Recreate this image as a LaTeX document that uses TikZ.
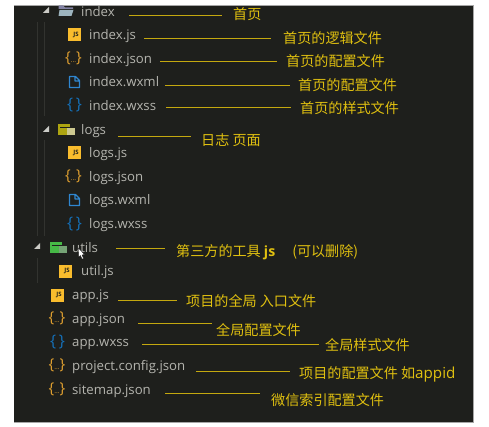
\documentclass[tikz,border=0pt]{standalone}
\usepackage{fontspec}
\setmainfont{Open Sans}
\newfontfamily\cjk{Noto Sans CJK SC}
\definecolor{panelbg}{HTML}{1E1F1C}
\definecolor{filetext}{HTML}{B4B4AE}
\definecolor{note}{HTML}{E0C010}
\definecolor{leader}{HTML}{C4A80F}
\definecolor{jsyellow}{HTML}{F9BC2D}
\definecolor{jsonyellow}{HTML}{E0A030}
\definecolor{iconblue}{HTML}{2F86CF}
\definecolor{cssblue}{HTML}{1570B8}
\definecolor{guide}{HTML}{32332F}
\tikzset{
	filename/.style={anchor=base west, inner sep=0pt, text=filetext, font=\fontsize{13.2}{14}\selectfont},
	notetext/.style={anchor=base west, inner sep=0pt, text=note, font=\cjk\fontsize{14.1}{16}\selectfont},
	leaderline/.style={leader, line width=0.9pt},
	jsicon/.style={fill=jsyellow, minimum size=13pt, inner sep=0pt, text=panelbg, font=\bfseries\fontsize{6}{6}\selectfont},
	jsonicon/.style={inner sep=0pt, text=jsonyellow, font=\fontsize{15}{15}\selectfont},
	wxssicon/.style={inner sep=0pt, text=cssblue, font=\fontsize{16}{16}\selectfont},
	fold/.style={line width=1.1pt, iconblue, line join=round},
	arrowtip/.style={fill=filetext!70!white},
}
\begin{document}
\begin{tikzpicture}[x=1pt,y=-1pt]
	\useasboundingbox (0,0) rectangle (489,427);
	
	%Panel de fondo
	\fill[panelbg] (13.5,5) rectangle (473,422);
	\draw[gray!70, line width=0.7pt] (13.5,5) -- (473,5) -- (473,422) -- (13.5,422);
	
	%Guias del arbol
	\draw[guide] (37,22) -- (37,236);
	\draw[guide] (44.5,22) -- (44.5,116);
	\draw[guide] (44.5,140) -- (44.5,236);
	\draw[guide] (37,258) -- (37,283);
	
	%Triangulos de las carpetas
	\fill[arrowtip] (49,7) -- (49,13) -- (43,13) -- cycle;
	\fill[arrowtip] (49,126) -- (49,132) -- (43,132) -- cycle;
	\fill[arrowtip] (40,243) -- (40,249) -- (34,249) -- cycle;
	
	%Carpetas
	\fill[gray!85!blue!85] (58.5,5.5) -- (63,5.5) -- (65,7.5) -- (73,7.5) -- (73,9) -- (58.5,9) -- cycle;
	\fill[gray!75!cyan!75] (59.5,10) -- (73.5,10) -- (71.5,16) -- (58.5,16) -- cycle;
	\fill[olive!80!yellow!90] (58,124) rectangle (70,135);
	\fill[panelbg] (60,127) rectangle (74,128);
	\fill[olive!35!white!85!gray] (66.5,128.5) rectangle (74.5,135.5);
	\fill[green!45!gray] (50,242) rectangle (62,253);
	\fill[panelbg] (52,245) rectangle (66,246);
	\fill[green!20!gray!90!white] (58.5,246.5) rectangle (66.5,253.5);
	
	%Archivos
	\foreach \name/\x/\y/\txt in {
		index/81/16.5/index, indexjs/89/40/index.js, indexjson/89/63.5/index.json,
		indexwxml/89/87/index.wxml, indexwxss/89/110.5/index.wxss,
		logs/81/134.5/logs, logsjs/89/158/logs.js, logsjson/89/181.5/logs.json,
		logswxml/89/205/logs.wxml, logswxss/89/228.5/logs.wxss,
		utils/72/252.5/utils, utiljs/81/276/util.js, appjs/72/299.5/app.js,
		appjson/72/323/app.json, appwxss/72/346.5/app.wxss,
		project/72/370.5/project.config.json, sitemap/72/394/sitemap.json}
	\node[filename] (\name) at (\x,\y) {\txt};
	
	%Iconos
	\foreach \name/\x/\y in {jsA/74.5/35, jsB/74.5/153, jsC/65.5/271, jsD/57.5/295}
	\node[jsicon] (\name) at (\x,\y) {\raisebox{-3pt}{\hspace{3pt}JS}};
	
	\foreach \name/\x/\y in {jsonA/73.5/58, jsonB/73.5/176, jsonC/57/318, jsonD/57/365, jsonE/57/389}
	\node[jsonicon] (\name) at (\x,\y) {\{\raisebox{-0.5pt}{\scalebox{0.45}{...}}\}};
	
	\foreach \name/\x/\y in {wxssA/74.5/105, wxssB/74.5/224, wxssC/57.5/342}
	\node[wxssicon] (\name) at (\x,\y) {\{\,\}};
	
	\foreach \y in {82,200}
	\draw[fold] (69.5,\y-5.5) -- (75.5,\y-5.5) -- (79.5,\y-1.5) -- (79.5,\y+5.5) -- (69.5,\y+5.5) -- cycle
		(75,\y-5.5) -- (75,\y-1) -- (79.5,\y-1);
	
	%Notas
	\foreach \name/\x/\y/\txt in {
		nIndex/233/20/首页, nIndexjs/283/44/首页的逻辑文件, nIndexjson/286/67/首页的配置文件,
		nIndexwxml/298/91/首页的配置文件, nIndexwxss/300/114/首页的样式文件,
		nLogs/201/146/日志 页面, nUtils/176/256/{第三方的工具 {\rmfamily\bfseries js}\hspace{17pt}(可以删除)},
		nAppjs/186/306/项目的全局 入口文件, nAppjson/216/335/全局配置文件,
		nAppwxss/325/350/全局样式文件, nProject/299/378/{项目的配置文件 如{\rmfamily\fontsize{15.2}{16}\selectfont appid}},
		nSitemap/271/405/微信索引配置文件}
	\node[notetext] (\name) at (\x,\y) {\txt};
	
	%Extremos de las lineas
	\foreach \name/\xa/\xb/\y in {
		lIndex/129/222/15, lIndexjs/144/271/38, lIndexjson/160/277/61,
		lIndexwxml/165/290/85, lIndexwxss/166/291/107, lLogs/118/191/136,
		lUtils/116/165/248, lAppjs/118/177/300, lAppjson/138/212/323,
		lAppwxss/142/319/344, lProject/196/290/371, lSitemap/165/260/393}
	{
		\coordinate (\name a) at (\xa,\y);
		\coordinate (\name b) at (\xb,\y);
		\draw[leaderline] (\name a) -- (\name b);
	}
	
	%Cursor
	\fill[white] (78.5,248) -- (78.5,257) -- (80.5,255.5) -- (82,259) -- (83.5,258.5) -- (82,255) -- (84.5,254.5) -- cycle;
	\draw[black, line width=0.3pt] (78.5,248) -- (78.5,257) -- (80.5,255.5) -- (82,259) -- (83.5,258.5) -- (82,255) -- (84.5,254.5) -- cycle;
	
\end{tikzpicture}
\end{document}
